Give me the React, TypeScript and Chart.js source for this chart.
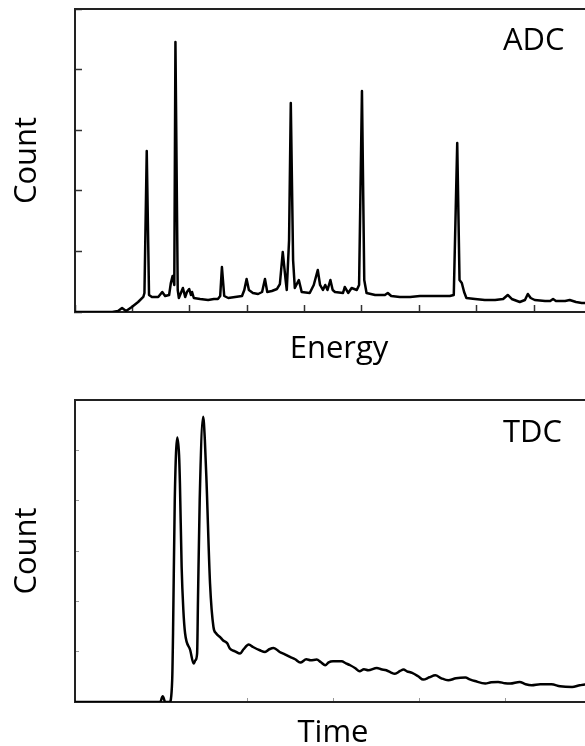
import React, { useEffect, useRef } from "react";
import { Chart, registerables } from "chart.js";

Chart.register(...registerables);

const FONT_FAMILY = '"Open Sans", "DejaVu Sans", sans-serif';

// ---------- ADC spectrum (top panel) ----------
const ADC_ENERGY = [
  0, 65, 75, 82, 89, 99, 110, 119, 121, 125,
  129, 134, 145, 152, 157, 164, 167, 170, 173, 175,
  179, 181, 188, 192, 195, 199, 202, 204, 207, 218,
  232, 242, 249, 253, 256, 260, 267, 279, 291, 295,
  299, 303, 310, 319, 326, 331, 335, 343, 352, 357,
  362, 367, 369, 373, 376, 380, 383, 390, 395, 409,
  416, 423, 427, 432, 436, 440, 445, 449, 453, 467,
  470, 476, 482, 491, 495, 500, 504, 508, 523, 540,
  545, 551, 566, 584, 601, 618, 636, 653, 660, 666,
  670, 674, 678, 682, 697, 714, 732, 746, 754, 761,
  775, 784, 789, 794, 801, 819, 828, 833, 838, 854,
  862, 873, 883, 899, 920,
];
const ADC_COUNT = [
  0, 0, 17, 66, 17, 83, 165, 248, 314, 2657,
  281, 248, 248, 330, 264, 281, 479, 594, 446, 4455,
  363, 231, 396, 248, 330, 380, 281, 330, 231, 215,
  198, 215, 215, 264, 743, 264, 231, 248, 264, 363,
  545, 363, 314, 297, 330, 545, 330, 347, 380, 462,
  990, 528, 363, 1188, 3449, 858, 396, 528, 330, 314,
  446, 693, 446, 363, 446, 363, 528, 363, 330, 314,
  413, 314, 396, 363, 446, 3647, 528, 314, 281, 281,
  314, 264, 248, 248, 264, 264, 264, 264, 281, 2789,
  528, 479, 330, 231, 215, 198, 198, 215, 281, 215,
  165, 198, 297, 231, 198, 182, 182, 215, 182, 182,
  198, 165, 149, 149, 149,
];
const ADC_X_MAX = 920;
const ADC_X_STEP = 100;
const ADC_Y_MAX = 5000;
const ADC_Y_STEP = 1000;

// ---------- TDC spectrum (bottom panel) ----------
const TDC_TIME = [
  0, 99, 102, 105, 110, 113, 114, 116, 119, 121,
  122, 124, 126, 128, 134, 138, 140, 142, 143, 145,
  149, 151, 153, 157,
  161, 164, 169, 172, 177, 180, 186, 192, 196, 202,
  207, 215, 221, 226, 231, 238, 244, 250, 256, 262,
  269, 274, 281, 286, 291, 295, 300, 310, 315, 320,
  326, 331, 336, 341, 351, 356, 362, 367, 372, 378,
  382, 386, 392, 399, 405, 412, 419, 426, 434, 443,
  454, 459, 465, 477, 484, 492, 500, 506, 517, 524,
  531, 541, 554, 564, 578, 587, 593, 600,
];
const TDC_COUNT = [
  0, 0, 113, 0, 0, 431, 1366, 4010, 5256, 4904,
  4348, 2684, 1823, 1366, 1028, 763, 829, 968, 2022, 4010,
  5666, 5203, 4348, 2360,
  1491, 1366, 1286, 1227, 1167, 1062, 1008, 962, 1048, 1141,
  1093, 1028, 994, 1048, 1074, 994, 948, 895, 849, 783,
  849, 829, 843, 789, 730, 789, 809, 809, 769, 730,
  670, 610, 650, 630, 676, 650, 630, 590, 561, 616,
  644, 610, 577, 511, 445, 491, 531, 471, 431, 471,
  485, 451, 417, 366, 392, 398, 372, 366, 398, 352,
  332, 352, 352, 312, 298, 332, 346, 332,
];
const TDC_X_MAX = 600;
const TDC_X_STEP = 100;
const TDC_Y_MAX = 6000;
const TDC_Y_STEP = 1000;

const ADC_TITLES = { x: "Energy", y: "Count", panel: "ADC" };
const TDC_TITLES = { x: "Time", y: "Count", panel: "TDC" };

type PanelSpec = {
  xs: number[];
  ys: number[];
  xMax: number;
  xStep: number;
  yMax: number;
  yStep: number;
  titles: { x: string; y: string; panel: string };
  width: number;
  height: number;
  padTop: number;
  xAxisHeight: number;
  yAxisWidth: number;
  xTitlePadBottom: number;
  yTitlePadTop: number;
  tickLen: number;
  tickColor: string;
  tickWidth: number;
  labelX: number;
  labelY: number;
  smooth: boolean;
  lineWidth: number;
};

function framePlugin(spec: PanelSpec) {
  return {
    id: "frameAndLabel",
    afterDatasetsDraw(chart: any) {
      const { ctx, chartArea } = chart;
      ctx.save();
      ctx.strokeStyle = "#222";
      ctx.lineWidth = 2;
      ctx.beginPath();
      ctx.moveTo(chartArea.left - 1, chartArea.top);
      ctx.lineTo(chartArea.right, chartArea.top);
      ctx.stroke();
      ctx.fillStyle = "#000";
      ctx.font = `31px ${FONT_FAMILY}`;
      ctx.textBaseline = "alphabetic";
      ctx.textAlign = "left";
      ctx.fillText(spec.titles.panel, spec.labelX, spec.labelY);
      ctx.restore();
    },
  };
}

function Panel({ spec, top }: { spec: PanelSpec; top: number }) {
  const ref = useRef<HTMLCanvasElement | null>(null);
  useEffect(() => {
    if (!ref.current) return;
    const points = spec.xs.map((x, i) => ({ x, y: spec.ys[i] }));
    const titleFont = { family: FONT_FAMILY, size: 31, weight: "normal" as const };
    const chart = new Chart(ref.current, {
      type: "line",
      data: {
        datasets: [
          {
            data: points,
            borderColor: "#000",
            borderWidth: spec.lineWidth,
            pointRadius: 0,
            fill: false,
            tension: spec.smooth ? 0.3 : 0,
            cubicInterpolationMode: spec.smooth ? "monotone" : "default",
            borderJoinStyle: "round",
          } as any,
        ],
      },
      options: {
        animation: false,
        responsive: false,
        devicePixelRatio: 1,
        layout: { padding: { top: spec.padTop, left: 0, right: 0, bottom: 0 } },
        plugins: { legend: { display: false }, tooltip: { enabled: false }, title: { display: false } },
        scales: {
          x: {
            type: "linear",
            min: 0,
            max: spec.xMax,
            ticks: { display: false, stepSize: spec.xStep },
            grid: {
              drawOnChartArea: false,
              drawTicks: true,
              tickLength: -spec.tickLen,
              tickColor: spec.tickColor,
              tickWidth: spec.tickWidth,
            },
            border: { display: true, color: "#222", width: 2 },
            title: {
              display: true,
              text: spec.titles.x,
              color: "#000",
              font: titleFont,
              padding: { top: 0, bottom: spec.xTitlePadBottom },
            },
            afterFit: (s: any) => {
              s.height = spec.xAxisHeight;
            },
          },
          y: {
            type: "linear",
            min: 0,
            max: spec.yMax,
            ticks: { display: false, stepSize: spec.yStep },
            grid: {
              drawOnChartArea: false,
              drawTicks: true,
              tickLength: -spec.tickLen,
              tickColor: spec.tickColor,
              tickWidth: spec.tickWidth,
            },
            border: { display: true, color: "#222", width: 2 },
            title: {
              display: true,
              text: spec.titles.y,
              color: "#000",
              font: titleFont,
              padding: { top: spec.yTitlePadTop, bottom: 0 },
            },
            afterFit: (s: any) => {
              s.width = spec.yAxisWidth;
            },
          },
        },
      },
      plugins: [framePlugin(spec)],
    });
    return () => chart.destroy();
  }, [spec]);
  return (
    <canvas
      ref={ref}
      width={spec.width}
      height={spec.height}
      style={{ position: "absolute", left: 0, top, width: spec.width, height: spec.height, display: "block" }}
    />
  );
}

const ADC_SPEC: PanelSpec = {
  xs: ADC_ENERGY,
  ys: ADC_COUNT,
  xMax: ADC_X_MAX,
  xStep: ADC_X_STEP,
  yMax: ADC_Y_MAX,
  yStep: ADC_Y_STEP,
  titles: ADC_TITLES,
  width: 603,
  height: 385,
  padTop: 9,
  xAxisHeight: 73,
  yAxisWidth: 75,
  xTitlePadBottom: 17,
  yTitlePadTop: 9,
  tickLen: 7,
  tickColor: "#333",
  tickWidth: 1.5,
  labelX: 503,
  labelY: 50,
  smooth: false,
  lineWidth: 2.5,
};

const TDC_SPEC: PanelSpec = {
  xs: TDC_TIME,
  ys: TDC_COUNT,
  xMax: TDC_X_MAX,
  xStep: TDC_X_STEP,
  yMax: TDC_Y_MAX,
  yStep: TDC_Y_STEP,
  titles: TDC_TITLES,
  width: 591,
  height: 370,
  padTop: 10,
  xAxisHeight: 58,
  yAxisWidth: 75,
  xTitlePadBottom: 8,
  yTitlePadTop: 9,
  tickLen: 4,
  tickColor: "#999",
  tickWidth: 1,
  labelX: 503,
  labelY: 52,
  smooth: true,
  lineWidth: 2.5,
};

export default function App() {
  return (
    <div
      style={{
        position: "absolute",
        left: 0,
        top: 0,
        width: 585,
        height: 746,
        overflow: "hidden",
        background: "#fff",
      }}
    >
      <Panel spec={ADC_SPEC} top={0} />
      <Panel spec={TDC_SPEC} top={390} />
    </div>
  );
}
